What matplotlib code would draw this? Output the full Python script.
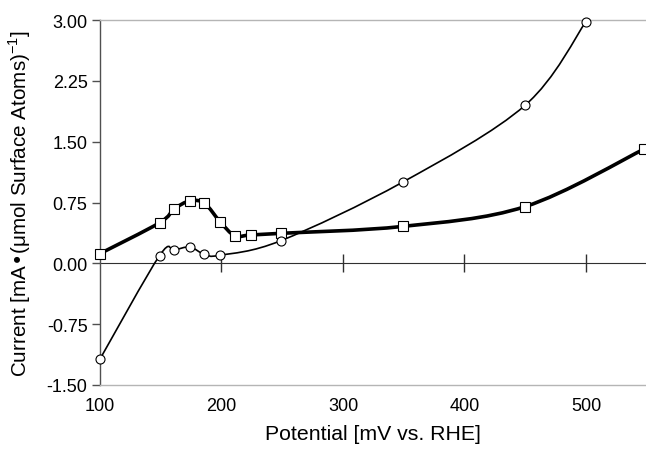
import numpy as np
import matplotlib
matplotlib.use("Agg")
import matplotlib.pyplot as plt
from matplotlib.path import Path
from matplotlib.patches import PathPatch

plt.rcParams['font.family'] = ['Liberation Sans', 'DejaVu Sans']

# squares (thick line)
sq_x = [100, 149, 161, 174, 186, 199, 211, 224, 249, 349, 450, 548]
sq_y = [0.12, 0.50, 0.67, 0.77, 0.74, 0.51, 0.34, 0.35, 0.37, 0.455, 0.70, 1.41]
# circles (thin line)
ci_x = [100, 149, 161, 174, 186, 199, 249, 349, 450, 500]
ci_y = [-1.18, 0.095, 0.16, 0.20, 0.11, 0.10, 0.28, 1.00, 1.95, 2.98]

x_ticks = [100, 200, 300, 400, 500]
y_ticks = [-1.50, -0.75, 0.00, 0.75, 1.50, 2.25, 3.00]


def smooth_path(xs, ys):
    # Excel-style smoothed line: cubic bezier segments through the points
    p = np.column_stack([xs, ys]).astype(float)
    ext = np.vstack([p[0], p, p[-1]])
    verts = [p[0]]
    codes = [Path.MOVETO]
    for i in range(len(p) - 1):
        p0, p1, p2, p3 = ext[i], ext[i + 1], ext[i + 2], ext[i + 3]
        c1 = p1 + (p2 - p0) / 6.0
        c2 = p2 - (p3 - p1) / 6.0
        verts += [c1, c2, p2]
        codes += [Path.CURVE4] * 3
    return Path(verts, codes)


def main():
    fig = plt.figure(figsize=(6.46, 4.52), dpi=100)
    ax = fig.add_axes([100 / 646, 66 / 452, 546 / 646, 365 / 452])

    ax.add_patch(PathPatch(smooth_path(sq_x, sq_y), fill=False,
                           lw=2.6, ec='black', zorder=3))
    ax.add_patch(PathPatch(smooth_path(ci_x, ci_y), fill=False,
                           lw=1.2, ec='black', zorder=3))
    ax.plot(sq_x, sq_y, ls='none', marker='s', ms=7, mfc='white',
            mec='black', mew=0.8, zorder=4, clip_on=False)
    ax.plot(ci_x, ci_y, ls='none', marker='o', ms=6.5, mfc='white',
            mec='black', mew=0.8, zorder=4, clip_on=False)

    ax.set_xlim(100, 549.4)
    ax.set_ylim(-1.5, 3.0)
    ax.set_xticks(x_ticks)
    ax.set_yticks(y_ticks)
    ax.set_yticklabels(['%.2f' % v for v in y_ticks])

    for s in ['top', 'bottom']:
        ax.spines[s].set_color('#b5b5b5')
        ax.spines[s].set_linewidth(1.0)
    ax.spines['right'].set_visible(False)
    ax.spines['left'].set_color('#505050')
    ax.spines['left'].set_linewidth(1.0)

    ax.tick_params(axis='x', length=0, labelsize=13, pad=9)
    ax.tick_params(axis='y', direction='out', length=6, width=1,
                   color='#505050', labelsize=13, pad=3)

    # zero line with crossing ticks
    zax = ax.secondary_xaxis(1.5 / 4.5)
    zax.set_xticks(x_ticks[1:])
    zax.tick_params(direction='inout', length=13, width=1, color='#303030',
                    labelbottom=False, labeltop=False)
    zax.spines['bottom'].set_color('#303030')
    zax.spines['top'].set_color('#303030')

    xl = ax.set_xlabel('Potential [mV vs. RHE]', fontsize=15, labelpad=7)
    yl = ax.set_ylabel(r'Current [mA•(μmol Surface Atoms)$^{\mathregular{-1}}$]',
                       fontsize=14, labelpad=10)

    # fit label lengths to the reference (about 217 px and 349 px)
    fig.canvas.draw()
    r = fig.canvas.get_renderer()
    xl.set_fontsize(15 * 217 / xl.get_window_extent(r).width)
    yl.set_fontsize(14 * 349 / yl.get_window_extent(r).height)
    # right edge of the y label near x = 33 px
    ax.yaxis.set_label_coords(-(100 - 33) / 546, 0.5)

    fig.savefig('out.png', dpi=100)


main()
